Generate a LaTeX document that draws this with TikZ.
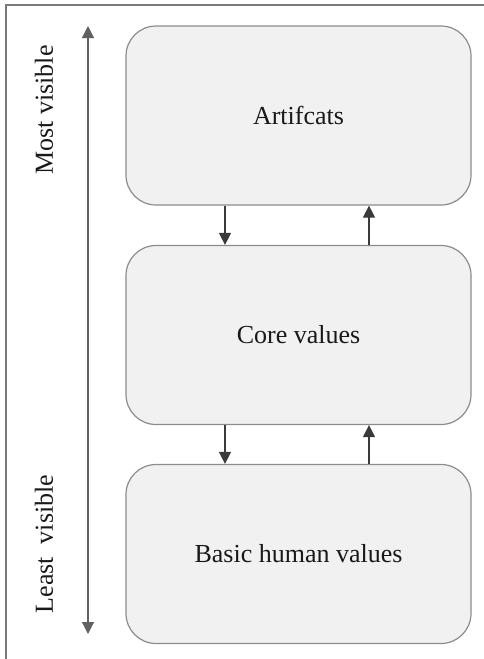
\documentclass[tikz,border=0pt]{standalone}
\usepackage{fontspec}
\setmainfont{Liberation Serif}
\usetikzlibrary{arrows.meta}
\definecolor{boxfill}{HTML}{F1F1F1}
\definecolor{boxline}{HTML}{8C8C8C}
\definecolor{arrcol}{HTML}{3A3A3A}
\definecolor{framecol}{HTML}{7A7A7A}
\begin{document}
\begin{tikzpicture}[x=1pt,y=-1pt,
  layerbox/.style={draw=boxline, line width=1.2pt, fill=boxfill, rounded corners=30pt,
    minimum width=345pt, minimum height=179pt, inner sep=0pt,
    font=\fontsize{26}{30}\selectfont, text=black!90},
  flowarrow/.style={draw=arrcol, line width=1.2pt, -{Triangle[length=12pt,width=12pt]}},
  sidelabel/.style={rotate=90, font=\fontsize{26}{30}\selectfont, text=black!90, inner sep=0pt},
  framestyle/.style={draw=framecol, line width=1.6pt}]
\useasboundingbox (0,0) rectangle (484,659);
% frame (top and left edges visible)
\coordinate (fTL) at (6,5);
\coordinate (fTR) at (484,5);
\coordinate (fBL) at (6,659);
\draw[framestyle] (fTR) -- (fTL) -- (fBL);
% boxes
\node[layerbox] (art) at (298.5,115.5) {Artifcats};
\node[layerbox] (core) at (298.5,335) {Core values};
\node[layerbox] (basic) at (298.5,554) {Basic human values};
% arrows between boxes
\coordinate (dA) at (225,0);
\coordinate (uA) at (369,0);
\draw[flowarrow] (art.south -| dA) -- (core.north -| dA);
\draw[flowarrow] (core.north -| uA) -- (art.south -| uA);
\draw[flowarrow] (core.south -| dA) -- (basic.north -| dA);
\draw[flowarrow] (basic.north -| uA) -- (core.south -| uA);
% side visibility arrow
\coordinate (vTop) at (88,26);
\coordinate (vBot) at (88,634);
\draw[draw=framecol!80!black, line width=1.2pt, {Triangle[length=12pt,width=12pt]}-{Triangle[length=12pt,width=12pt]}, color=arrcol!80] (vBot) -- (vTop);
% side labels
\node[sidelabel] (most) at (44,110) {Most visible};
\node[sidelabel] (least) at (44,544) {Least\ \ visible};
\end{tikzpicture}
\end{document}
